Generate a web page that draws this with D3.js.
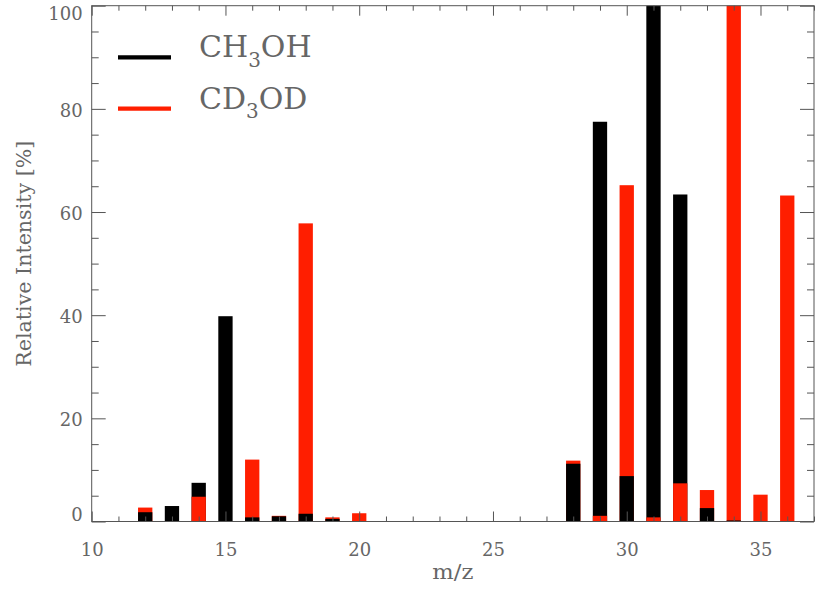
<!DOCTYPE html>
<html>
<head>
<meta charset="utf-8">
<script src="https://cdn.jsdelivr.net/npm/d3@7"></script>
<style>
  body { margin: 0; background: #fff; }
  text { font-family: "DejaVu Serif", serif; fill: #666; }
  .axis line { stroke: #555; }
  .axis path { display: none; }
</style>
</head>
<body>
<div id="chart"></div>
<script>
// mass spectrum, CH3OH vs CD3OD, bars overlaid at each m/z
const svgWidth = 830;
const svgHeight = 593;
const margin = { top: 5.7, right: 16, bottom: 71.5, left: 91.7 };
const width = svgWidth - margin.left - margin.right;
const height = svgHeight - margin.top - margin.bottom;

// data
const mzValues = [12, 13, 14, 15, 16, 17, 18, 19, 20, 28, 29, 30, 31, 32, 33, 34, 35, 36];
const ch3oh    = [1.8, 3.0, 7.5, 39.8, 0.8, 1.0, 1.5, 0.5, 0, 11.2, 77.5, 8.8, 100, 63.4, 2.6, 0.2, 0, 0];
const cd3od    = [2.7, 0, 4.8, 0, 12.0, 1.1, 57.8, 0.8, 1.6, 11.8, 1.1, 65.2, 0.8, 7.4, 6.1, 100, 5.2, 63.2];
const seriesNames = ["CH3OH", "CD3OD"];
const seriesColors = ["#000000", "#ff1e00"];
const xTicks = [10, 15, 20, 25, 30, 35];
const yTicks = [0, 20, 40, 60, 80, 100];

const svg = d3.select("#chart")
    .append("svg")
    .attr("width", svgWidth)
    .attr("height", svgHeight)
    .append("g")
    .attr("transform", `translate(${margin.left},${margin.top})`);

const x = d3.scaleLinear().domain([10, 37]).range([0, width]);
const y = d3.scaleLinear().domain([0, 100]).range([height, 0]);

const barW = x(10.535) - x(10);

// build one record per bar, larger drawn first so the smaller one sits on top
let bars = [];
mzValues.forEach((m, i) => {
    let pair = [
        { mz: m, v: ch3oh[i], s: 0 },
        { mz: m, v: cd3od[i], s: 1 }
    ].filter(d => d.v > 0);
    pair.sort((a, b) => b.v - a.v);
    bars = bars.concat(pair);
});

svg.selectAll(".bar")
    .data(bars)
    .enter()
    .append("rect")
    .attr("class", "bar")
    .attr("x", d => x(d.mz) - barW / 2)
    .attr("width", barW)
    .attr("y", d => y(d.v))
    .attr("height", d => y(0) - y(d.v))
    .attr("fill", d => seriesColors[d.s]);

// minor ticks
const xMinor = d3.range(10, 38, 1).filter(v => v % 5 != 0);
const yMinor = d3.range(0, 101, 5).filter(v => v % 20 != 0);

svg.append("g").attr("class", "axis")
    .attr("transform", `translate(0,${height})`)
    .call(d3.axisBottom(x).tickValues(xTicks).tickSize(-10).tickPadding(22).tickFormat(d3.format("d")));
svg.append("g").attr("class", "axis")
    .attr("transform", `translate(0,${height})`)
    .call(d3.axisBottom(x).tickValues(xMinor).tickSize(-5).tickFormat(""));
svg.append("g").attr("class", "axis")
    .call(d3.axisTop(x).tickValues(xTicks).tickSize(-10).tickFormat(""));
svg.append("g").attr("class", "axis")
    .call(d3.axisTop(x).tickValues(xMinor).tickSize(-5).tickFormat(""));

const yAxis = svg.append("g").attr("class", "axis")
    .call(d3.axisLeft(y).tickValues(yTicks).tickSize(-14).tickPadding(9).tickFormat(d3.format("d")));
svg.append("g").attr("class", "axis")
    .call(d3.axisLeft(y).tickValues(yMinor).tickSize(-7).tickFormat(""));
svg.append("g").attr("class", "axis")
    .attr("transform", `translate(${width},0)`)
    .call(d3.axisRight(y).tickValues(yTicks).tickSize(-14).tickFormat(""));
svg.append("g").attr("class", "axis")
    .attr("transform", `translate(${width},0)`)
    .call(d3.axisRight(y).tickValues(yMinor).tickSize(-7).tickFormat(""));

svg.selectAll(".axis text")
    .attr("font-family", "DejaVu Serif")
    .attr("font-size", 18)
    .attr("fill", "#666");

// end labels kept inside the frame, like the original
yAxis.selectAll(".tick text")
    .attr("dy", d => d == 0 ? "-0.05em" : (d == 100 ? "0.75em" : "0.4em"));

// box
svg.append("rect")
    .attr("width", width)
    .attr("height", height)
    .attr("fill", "none")
    .attr("stroke", "#555")
    .attr("stroke-width", 1);

// axis titles
svg.append("text")
    .text("m/z")
    .attr("x", width / 2)
    .attr("y", height + 58)
    .attr("text-anchor", "middle")
    .attr("font-size", 20)
    .attr("textLength", 41)
    .attr("lengthAdjust", "spacingAndGlyphs");

svg.append("text")
    .text("Relative Intensity [%]")
    .attr("transform", `translate(${31 - margin.left},${253.7 - margin.top}) rotate(-90)`)
    .attr("text-anchor", "middle")
    .attr("font-size", 20)
    .attr("textLength", 226)
    .attr("lengthAdjust", "spacingAndGlyphs");

// legend
const legendRows = [
    { pre: "CH", sub: "3", post: "OH", color: seriesColors[0], yy: 57.3 },
    { pre: "CD", sub: "3", post: "OD", color: seriesColors[1], yy: 108.7 }
];
const lg = svg.append("g").attr("transform", `translate(${-margin.left},${-margin.top})`);
legendRows.forEach(r => {
    lg.append("line")
        .attr("x1", 118).attr("x2", 171)
        .attr("y1", r.yy).attr("y2", r.yy)
        .attr("stroke", r.color)
        .attr("stroke-width", 4.3);
    const t = lg.append("text")
        .attr("x", 199)
        .attr("y", r.yy)
        .attr("font-size", 30);
    t.append("tspan").text(r.pre);
    t.append("tspan").text(r.sub).attr("font-size", 20).attr("dy", 9.7);
    t.append("tspan").text(r.post).attr("dy", -9.7);
});
</script>
</body>
</html>
